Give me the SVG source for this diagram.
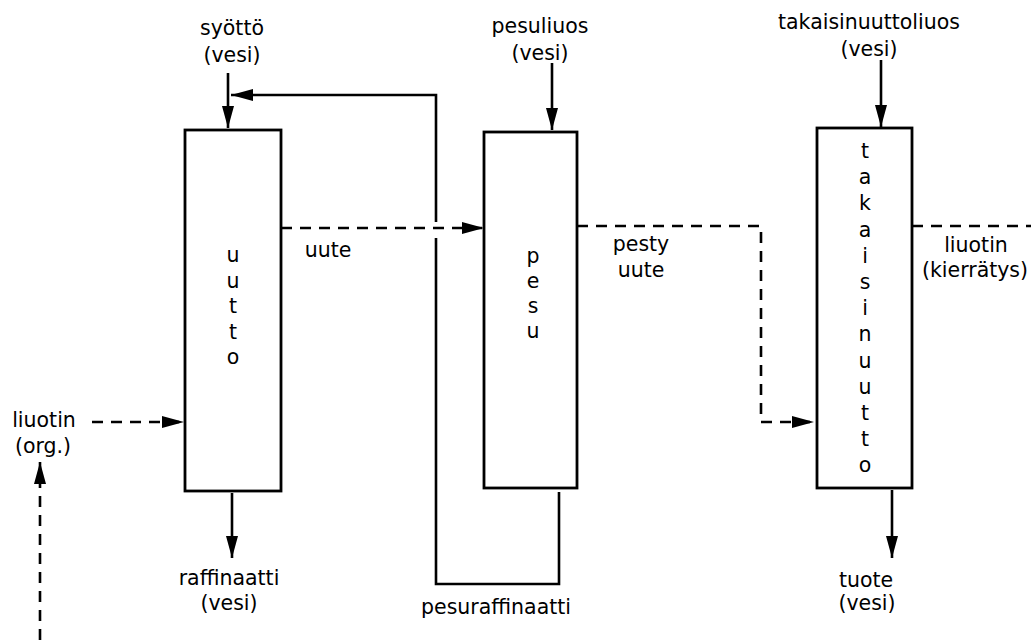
<svg xmlns="http://www.w3.org/2000/svg" width="1031" height="640" viewBox="0 0 1031 640">
<style>
text{font-family:"DejaVu Sans",Verdana,sans-serif;font-size:20.5px;fill:#000;text-anchor:middle}
.box{fill:#fff;stroke:#000;stroke-width:2.8}
.s{fill:none;stroke:#000;stroke-width:2.6}
.d{fill:none;stroke:#000;stroke-width:2.6;stroke-dasharray:11 8}
</style>
<defs>
<marker id="arr" markerUnits="userSpaceOnUse" markerWidth="22" markerHeight="12" refX="22" refY="6" orient="auto" viewBox="0 0 22 12">
<path d="M0,0 L22,6 L0,12 z" fill="#000"/>
</marker>
</defs>
<rect width="1031" height="640" fill="#fff"/>
<g id="connectors">
<path class="s" d="M228,73 V128" marker-end="url(#arr)"/>
<path class="s" d="M559,492 V584 H436 V238"/>
<path class="s" d="M436,222 V95 H231" marker-end="url(#arr)"/>
<path class="d" d="M281,228 H484" marker-end="url(#arr)"/>
<path class="s" d="M552,63 V130" marker-end="url(#arr)"/>
<path class="d" d="M577,226 H761 V422 H814" marker-end="url(#arr)"/>
<path class="s" d="M881,60 V127" marker-end="url(#arr)"/>
<path class="d" d="M912,226 H1031"/>
<path class="d" d="M92,422 H184" marker-end="url(#arr)"/>
<path class="d" d="M40,640 V462" marker-end="url(#arr)"/>
<path class="s" d="M232,493 V558" marker-end="url(#arr)"/>
<path class="s" d="M892,490 V558" marker-end="url(#arr)"/>
</g>
<g id="uutto">
<rect class="box" x="185" y="130" width="96" height="361"/>
<text x="233" y="262">u</text>
<text x="233" y="287.5">u</text>
<text x="233" y="313">t</text>
<text x="233" y="338.5">t</text>
<text x="233" y="364">o</text>
</g>
<g id="pesu">
<rect class="box" x="484" y="132" width="93" height="356"/>
<text x="533" y="263">p</text>
<text x="533" y="288">e</text>
<text x="533" y="313">s</text>
<text x="533" y="338">u</text>
</g>
<g id="takaisinuutto">
<rect class="box" x="817" y="128" width="95" height="360"/>
<text x="865" y="158">t</text>
<text x="865" y="184.2">a</text>
<text x="865" y="210.4">k</text>
<text x="865" y="236.6">a</text>
<text x="865" y="262.8">i</text>
<text x="865" y="289">s</text>
<text x="865" y="315.2">i</text>
<text x="865" y="341.4">n</text>
<text x="865" y="367.6">u</text>
<text x="865" y="393.8">u</text>
<text x="865" y="420">t</text>
<text x="865" y="446.2">t</text>
<text x="865" y="472.4">o</text>
</g>
<g id="labels">
<text x="232" y="35">syöttö</text>
<text x="232" y="62">(vesi)</text>
<text x="540" y="33">pesuliuos</text>
<text x="540" y="60">(vesi)</text>
<text x="869" y="29">takaisinuuttoliuos</text>
<text x="869" y="56">(vesi)</text>
<text x="328" y="257">uute</text>
<text x="641" y="251">pesty</text>
<text x="641" y="277">uute</text>
<text x="976" y="252">liuotin</text>
<text x="975" y="277">(kierrätys)</text>
<text x="44" y="427">liuotin</text>
<text x="43" y="453">(org.)</text>
<text x="229" y="585">raffinaatti</text>
<text x="229" y="610">(vesi)</text>
<text x="496" y="614">pesuraffinaatti</text>
<text x="866" y="587">tuote</text>
<text x="867" y="610">(vesi)</text>
</g>
</svg>
